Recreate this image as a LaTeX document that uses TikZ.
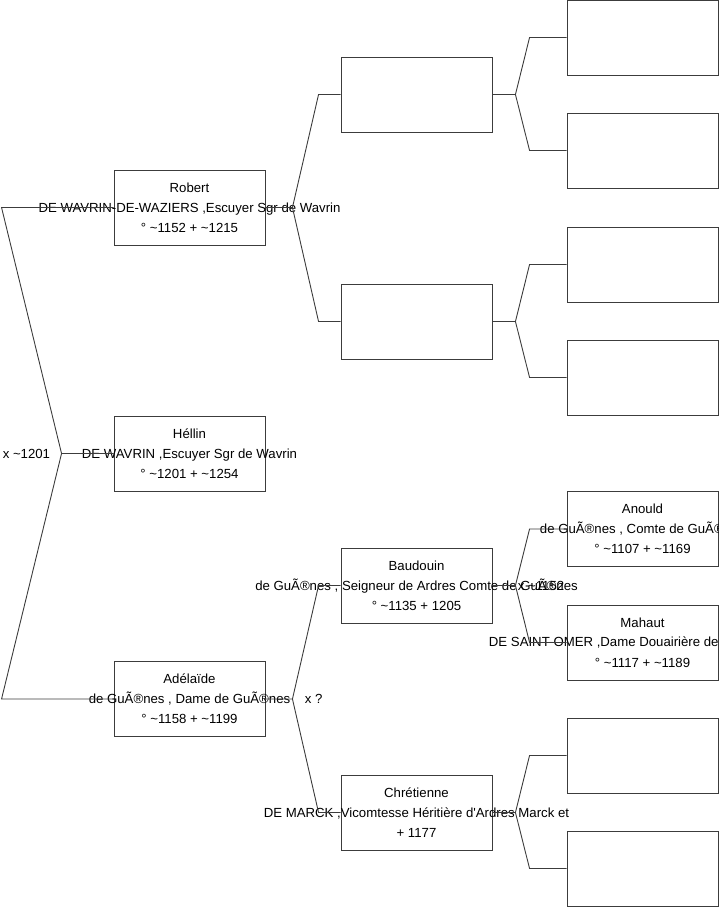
\documentclass[tikz,border=0pt]{standalone}
\usepackage{fontspec}
\setmainfont{Liberation Sans}
\usetikzlibrary{positioning}
\definecolor{linegray}{RGB}{60,60,60}
\newcommand{\tld}{\textasciitilde}

\begin{document}
\begin{tikzpicture}[x=1pt,y=-1pt]
\useasboundingbox (0,0) rectangle (719,908);
\begin{scope}[line width=0.9pt, draw=linegray,
  every node/.style={font=\fontsize{13.2}{20}\selectfont, align=center, inner sep=0pt},
  pbox/.style={draw, minimum width=151pt, minimum height=75pt}]

% boxes
\node[pbox] (robert)     at (189.5,207.5) {};
\node[pbox] (hellin)     at (189.5,453.5) {};
\node[pbox] (adelaide)   at (189.5,699) {};
\node[pbox] (rf)         at (416.5,94.5) {};
\node[pbox] (rm)         at (416.5,321.5) {};
\node[pbox] (baudouin)   at (416.5,585.5) {};
\node[pbox] (chretienne) at (416.5,812.5) {};
\node[pbox] (rff)        at (642.5,37.5) {};
\node[pbox] (rfm)        at (642.5,150.5) {};
\node[pbox] (rmf)        at (642.5,264.5) {};
\node[pbox] (rmm)        at (642.5,377.5) {};
\node[pbox] (anould)     at (642.5,529) {};
\node[pbox] (mahaut)     at (642.5,642.5) {};
\node[pbox] (cf)         at (642.5,755.5) {};
\node[pbox] (cm)         at (642.5,868.5) {};

\node at (robert) {Robert\\DE WAVRIN-DE-WAZIERS ,Escuyer Sgr de Wavrin\\° \tld1152 + \tld1215};
\node at (hellin) {Héllin\\DE WAVRIN ,Escuyer Sgr de Wavrin\\° \tld1201 + \tld1254};
\node at (adelaide) {Adélaïde\\de GuÃ®nes , Dame de GuÃ®nes\\° \tld1158 + \tld1199};
\node at (baudouin) {Baudouin\\de GuÃ®nes , Seigneur de Ardres Comte de GuÃ®nes\\° \tld1135 + 1205};
\node at (chretienne) {Chrétienne\\DE MARCK ,Vicomtesse Héritière d\textquotesingle Ardres Marck et\\+ 1177};
\node at (anould) {Anould\\de GuÃ®nes , Comte de GuÃ®nes\\° \tld1107 + \tld1169};
\node at ([yshift=20pt]mahaut) {Mahaut};
\node[anchor=west] at ([xshift=-154pt]mahaut.center) {DE SAINT-OMER ,Dame Douairière de};
\node at ([yshift=-20pt]mahaut) {° \tld1117 + \tld1189};

% connectors
\draw (hellin.west) -- +(-52,0) coordinate (f0) -- ([xshift=-112pt]robert.west) -- (robert.west);
\draw (f0) -- ([xshift=-112pt]adelaide.west) -- (adelaide.west);

\draw (robert.east) -- +(27,0) coordinate (f1) -- ([xshift=-22pt]rf.west) -- (rf.west);
\draw (f1) -- ([xshift=-22pt]rm.west) -- (rm.west);
\draw (adelaide.east) -- +(27,0) coordinate (f2) -- ([xshift=-22pt]baudouin.west) -- (baudouin.west);
\draw (f2) -- ([xshift=-22pt]chretienne.west) -- (chretienne.west);

\foreach \p/\a/\b in {rf/rff/rfm, rm/rmf/rmm, baudouin/anould/mahaut, chretienne/cf/cm}{
  \draw (\p.east) -- +(23,0) coordinate (f-\p) -- ([xshift=-37pt]\a.west) -- (\a.west);
  \draw (f-\p) -- ([xshift=-37pt]\b.west) -- (\b.west);
}

\node[left=11pt of f0] (m0) {x \tld1201};
\node[right=12pt of f2] (m2) {x ?};
\node[right=2pt of f-baudouin] (m3) {x \tld1152};

\end{scope}
\end{tikzpicture}
\end{document}
